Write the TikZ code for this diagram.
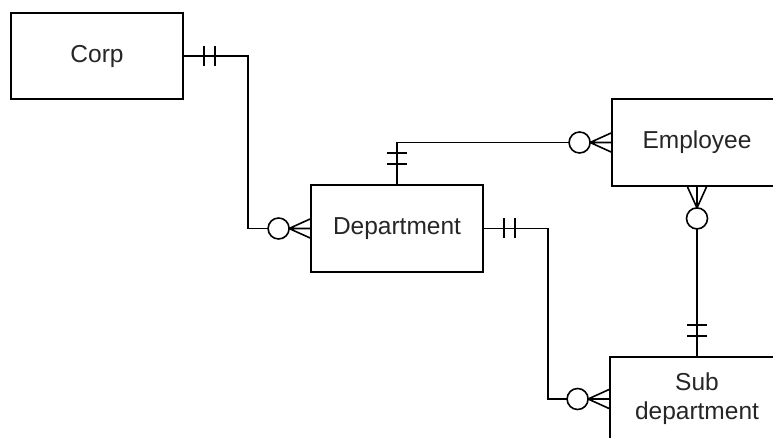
\documentclass[tikz,border=0pt]{standalone}
\usepackage{fontspec}
\setmainfont{Liberation Sans}
\begin{document}
\begin{tikzpicture}[x=1pt,y=-1pt,
  entity/.style={draw, line width=1.8pt, inner sep=0pt, align=center,
    font=\fontsize{24.5}{29}\selectfont, text=black!85},
  conn/.style={line width=1.6pt},
  zmany/.pic={
    \draw[conn] (-21,0) -- (0,-9.5) (-21,0) -- (0,0) (-21,0) -- (0,9.5);
    \draw[conn, fill=white] (-31.5,0) circle[radius=10.5];},
  oneone/.pic={
    \draw[conn] (-20,-10) -- (-20,10) (-31,-10) -- (-31,10);}
]
\useasboundingbox (0,0) rectangle (773,438);
\clip (0,0) rectangle (773,438);
\fill[white] (0,0) rectangle (773,438);

\node[entity, minimum width=172pt, minimum height=86pt] (corp) at (97,56) {Corp};
\node[entity, minimum width=172pt, minimum height=87pt] (dept) at (397,228.5) {Department};
\node[entity, minimum width=170pt, minimum height=87pt] (emp) at (697,142.5) {Employee};
\node[entity, minimum width=174pt, minimum height=84pt] (sub) at (697,399) {Sub\\department};

\draw[conn] (corp.east) -- ++(64,0) |- (dept.west);
\draw[conn] (dept.north) |- (emp.west);
\draw[conn] (emp.south) -- (sub.north);
\draw[conn] (dept.east) -- ++(64,0) |- (sub.west);

\pic[rotate=180] at (corp.east) {oneone};
\pic at (dept.west) {zmany};
\pic[rotate=-90] at (dept.north) {oneone};
\pic at (emp.west) {zmany};
\pic[rotate=90] at (emp.south) {zmany};
\pic[rotate=180] at (dept.east) {oneone};
\pic[rotate=-90] at (sub.north) {oneone};
\pic at (sub.west) {zmany};
\end{tikzpicture}
\end{document}
